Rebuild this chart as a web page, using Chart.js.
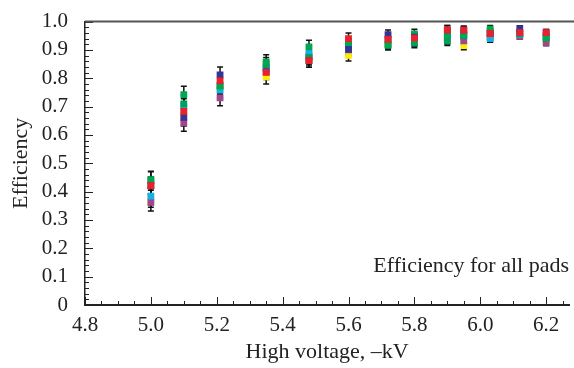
<!DOCTYPE html>
<html>
<head>
<meta charset="utf-8">
<script src="https://cdn.jsdelivr.net/npm/chart.js@4"></script>
<style>
  body { margin: 0; background: #fff; }
  #wrap { width: 574px; height: 368px; position: relative; }
</style>
</head>
<body>
<div id="wrap"><canvas id="effChart" width="574" height="368"></canvas></div>
<script>
// high voltage points, -kV
var voltages = [5.0, 5.1, 5.21, 5.35, 5.48, 5.6, 5.72, 5.8, 5.9, 5.95, 6.03, 6.12, 6.2];
// error for each voltage (same for every pad)
var errors = [0.03, 0.03, 0.028, 0.025, 0.023, 0.02, 0.016, 0.016, 0.015, 0.014, 0.013, 0.01, 0.011];

// efficiency per pad
var padRed    = [0.421, 0.683, 0.791, 0.821, 0.862, 0.940, 0.937, 0.942, 0.971, 0.970, 0.958, 0.961, 0.961];
var padBlue   = [0.421, 0.662, 0.812, 0.823, 0.862, 0.902, 0.954, 0.945, 0.971, 0.970, 0.958, 0.975, 0.961];
var padGreen  = [0.442, 0.742, 0.772, 0.858, 0.911, 0.919, 0.917, 0.957, 0.954, 0.954, 0.973, 0.961, 0.942];
var padGreen2 = [0.440, 0.710, 0.775, 0.848, 0.874, 0.920, 0.917, 0.924, 0.931, 0.950, 0.965, 0.958, 0.945];
var padCyan   = [0.384, 0.698, 0.758, 0.836, 0.888, 0.905, 0.935, 0.930, 0.945, 0.955, 0.940, 0.955, 0.950];
var padPurple = [0.362, 0.643, 0.731, 0.836, 0.880, 0.900, 0.937, 0.940, 0.940, 0.932, 0.945, 0.948, 0.926];
var padYellow = [0.375, 0.665, 0.760, 0.805, 0.870, 0.881, 0.920, 0.930, 0.935, 0.915, 0.942, 0.950, 0.935];

var xTicks = [4.8, 5.0, 5.2, 5.4, 5.6, 5.8, 6.0, 6.2];
var yTicks = [0, 0.1, 0.2, 0.3, 0.4, 0.5, 0.6, 0.7, 0.8, 0.9, 1.0];

var noteText = "Efficiency for all pads";
var serif = "'Liberation Serif', 'Times New Roman', serif";

function toPoints(vals) {
    var pts = [];
    for (var i = 0; i < voltages.length; i++) {
        pts.push({x: voltages[i], y: vals[i]});
    }
    return pts;
}

function padSet(vals, color) {
    return {
        data: toPoints(vals),
        showLine: false,
        pointStyle: 'rect',
        pointRadius: 4.8,
        pointBorderWidth: 0,
        backgroundColor: color,
        borderColor: color
    };
}

// dataset 0 ends up drawn on top
var sets = [
    padSet(padRed, 'rgb(236,32,40)'),
    padSet(padBlue, 'rgb(52,52,150)'),
    padSet(padGreen, 'rgb(0,166,80)'),
    padSet(padGreen2, 'rgb(0,160,90)'),
    padSet(padCyan, 'rgb(20,176,232)'),
    padSet(padPurple, 'rgb(160,70,140)'),
    padSet(padYellow, 'rgb(255,236,0)')
];

// error bars, axis ticks and the note
var extras = {
    id: 'extras',
    beforeDatasetsDraw: function(chart) {
        var ctx = chart.ctx;
        var ys = chart.scales.y;
        ctx.save();
        ctx.strokeStyle = '#111';
        ctx.lineWidth = 1.5;
        chart.data.datasets.forEach(function(ds, di) {
            var meta = chart.getDatasetMeta(di);
            meta.data.forEach(function(pt, i) {
                var v = ds.data[i].y;
                var top = ys.getPixelForValue(v + errors[i]);
                var bot = ys.getPixelForValue(v - errors[i]);
                ctx.beginPath();
                ctx.moveTo(pt.x, top); ctx.lineTo(pt.x, bot);
                ctx.moveTo(pt.x - 3, top); ctx.lineTo(pt.x + 3, top);
                ctx.moveTo(pt.x - 3, bot); ctx.lineTo(pt.x + 3, bot);
                ctx.stroke();
            });
        });
        ctx.restore();
    },
    afterDraw: function(chart) {
        var ctx = chart.ctx;
        var xs = chart.scales.x, ys = chart.scales.y;
        var a = chart.chartArea;
        ctx.save();
        ctx.strokeStyle = '#222';
        ctx.lineWidth = 1;
        ctx.beginPath();
        // x ticks, minor every 0.05
        for (var k = 0; k * 0.05 + 4.8 <= xs.max + 1e-9; k++) {
            var xv = 4.8 + k * 0.05;
            var px = Math.round(xs.getPixelForValue(xv)) + 0.5;
            var len = (k % 4 === 0) ? 8 : 4;
            ctx.moveTo(px, a.bottom); ctx.lineTo(px, a.bottom - len);
        }
        // y ticks, minor every 0.02
        for (var j = 0; j <= 50; j++) {
            var py = Math.round(ys.getPixelForValue(j * 0.02)) + 0.5;
            var ylen = (j % 5 === 0) ? 8 : 4;
            ctx.moveTo(a.left, py); ctx.lineTo(a.left + ylen, py);
        }
        ctx.stroke();
        // top frame line
        ctx.strokeStyle = '#555';
        ctx.lineWidth = 2;
        ctx.beginPath();
        ctx.moveTo(a.left, a.top); ctx.lineTo(chart.width, a.top);
        ctx.stroke();
        // note
        ctx.fillStyle = '#222';
        ctx.font = '22px ' + serif;
        ctx.textAlign = 'right';
        ctx.textBaseline = 'middle';
        ctx.fillText(noteText, chart.width - 5, ys.getPixelForValue(0.138));
        ctx.restore();
    }
};

var chart = new Chart(document.getElementById('effChart').getContext('2d'), {
    type: 'scatter',
    data: { datasets: sets },
    options: {
        responsive: false,
        animation: false,
        events: [],
        layout: { padding: { top: 16, right: -4, left: 0, bottom: 0 } },
        plugins: {
            legend: { display: false },
            tooltip: { enabled: false }
        },
        scales: {
            x: {
                type: 'linear',
                min: 4.8,
                max: 6.27,
                grid: { display: false },
                border: { display: true, color: '#222', width: 2 },
                afterBuildTicks: function(scale) {
                    scale.ticks = xTicks.map(function(v) { return {value: v}; });
                },
                afterFit: function(scale) { scale.height = 63; },
                ticks: {
                    color: '#222',
                    padding: 0,
                    maxRotation: 0,
                    font: { family: serif, size: 21 },
                    callback: function(v) { return v.toFixed(1); }
                },
                title: {
                    display: true,
                    text: 'High voltage, \u2013kV',
                    color: '#222',
                    font: { family: serif, size: 22 },
                    padding: { top: 0, bottom: 3 }
                }
            },
            y: {
                min: 0,
                max: 1,
                grid: { display: false },
                border: { display: true, color: '#222', width: 1.5 },
                afterBuildTicks: function(scale) {
                    scale.ticks = yTicks.map(function(v) { return {value: v}; });
                },
                afterFit: function(scale) { scale.width = 85; },
                ticks: {
                    color: '#222',
                    padding: 9,
                    font: { family: serif, size: 21 },
                    callback: function(v) { return v === 0 ? '0' : v.toFixed(1); }
                },
                title: {
                    display: true,
                    text: 'Efficiency',
                    color: '#222',
                    font: { family: serif, size: 22 },
                    padding: { top: 8, bottom: 0 }
                }
            }
        }
    },
    plugins: [extras]
});
</script>
</body>
</html>
